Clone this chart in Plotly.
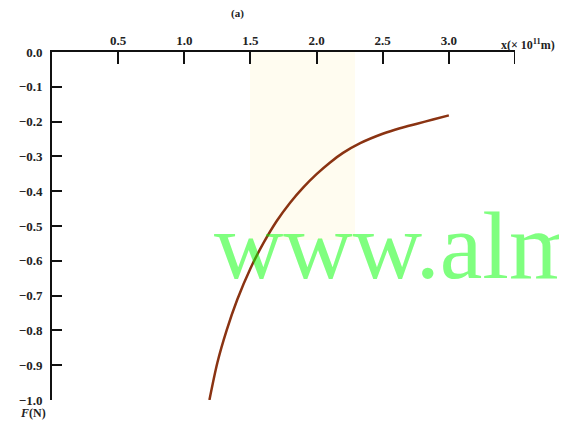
import plotly.graph_objects as go

# Data (x in 10^11 m, F in N)
x_vals = [1.19, 1.25, 1.32, 1.40, 1.50, 1.60, 1.70, 1.80, 1.90, 2.00, 2.10, 2.20, 2.33, 2.50, 2.63, 2.76, 2.88, 3.00]
f_vals = [-1.00, -0.893, -0.800, -0.712, -0.622, -0.548, -0.485, -0.433, -0.389, -0.351, -0.318, -0.290,
          -0.262, -0.235, -0.219, -0.206, -0.194, -0.182]

x_ticks = [0.5, 1.0, 1.5, 2.0, 2.5, 3.0]
x_ticktext = ["<b>0.5</b>", "<b>1.0</b>", "<b>1.5</b>", "<b>2.0</b>", "<b>2.5</b>", "<b>3.0</b>"]
x_end = 3.5
y_ticks = [0.0, -0.1, -0.2, -0.3, -0.4, -0.5, -0.6, -0.7, -0.8, -0.9, -1.0]
y_ticktext = ["<b>0.0</b>", "<b>\u22120.1</b>", "<b>\u22120.2</b>", "<b>\u22120.3</b>", "<b>\u22120.4</b>",
              "<b>\u22120.5</b>", "<b>\u22120.6</b>", "<b>\u22120.7</b>", "<b>\u22120.8</b>",
              "<b>\u22120.9</b>", "<b>\u22121.0</b>"]

# page has an 8px body margin: figure occupies window pixels 8..567, 8..428
OFF = 8
W, H = 567 - OFF, 428 - OFF
ml, mr, mt, mb = 52 - OFF, 52, 52 - OFF, 28
pw, ph = W - ml - mr, H - mt - mb
X0, Y1 = 52, 400  # plot area left / bottom in window pixels

def px(xp):
    return (xp - X0) / pw

def py(yp):
    return (Y1 - yp) / ph

tickfont = dict(family="Liberation Serif", size=13, color="#222")

fig = go.Figure()
fig.add_trace(go.Scatter(x=x_vals, y=f_vals, mode="lines",
                         line=dict(color="#8a3312", width=2.5, shape="spline", smoothing=0.8),
                         hoverinfo="skip", showlegend=False))

fig.update_layout(
    width=W, height=H,
    margin=dict(l=ml, r=mr, t=mt, b=mb, autoexpand=False),
    paper_bgcolor="white", plot_bgcolor="white",
    showlegend=False,
    xaxis=dict(side="top", range=[0, x_end], showgrid=False, zeroline=False,
               showline=True, linecolor="#111", linewidth=2,
               ticks="inside", ticklen=12, tickwidth=2, tickcolor="#111",
               tickvals=x_ticks, ticktext=x_ticktext, tickfont=tickfont,
               mirror=False, fixedrange=True, automargin=False),
    yaxis=dict(range=[-1.0, 0.0], showgrid=False, zeroline=False,
               showline=True, linecolor="#111", linewidth=2,
               ticks="inside", ticklen=10, tickwidth=2, tickcolor="#111",
               tickvals=y_ticks, ticktext=y_ticktext, tickfont=tickfont,
               ticklabelstandoff=5,
               mirror=False, fixedrange=True, automargin=False),
    shapes=[
        dict(type="rect", xref="paper", yref="paper", layer="below",
             x0=px(250), x1=px(355), y0=py(240), y1=py(52),
             fillcolor="rgba(255,250,225,0.5)", line=dict(width=0)),
        dict(type="line", xref="x", yref="paper", x0=x_end, x1=x_end,
             y0=1, y1=1 - 12 / ph, line=dict(color="#111", width=2)),
    ],
    annotations=[
        dict(text="<b>x(× 10<sup>11</sup>m)</b>", xref="paper", yref="paper",
             x=px(499), y=py(45), xanchor="left", yanchor="middle", showarrow=False,
             font=dict(family="Liberation Serif", size=12, color="#222")),
        dict(text="<b><i>F</i>(N)</b>", xref="paper", yref="paper",
             x=px(33), y=py(413), xanchor="center", yanchor="middle", showarrow=False,
             font=dict(family="Liberation Serif", size=12, color="#222")),
        dict(text="<b>(a)</b>", xref="paper", yref="paper",
             x=px(237), y=py(13), xanchor="center", yanchor="middle", showarrow=False,
             font=dict(family="Liberation Serif", size=11, color="#222")),
        dict(text="www.alm", xref="paper", yref="paper",
             x=px(212), y=py(245), xanchor="left", yanchor="middle", showarrow=False,
             font=dict(family="Liberation Serif", size=96, color="rgba(0,255,0,0.5)")),
    ],
)

fig.write_html("out.html")
